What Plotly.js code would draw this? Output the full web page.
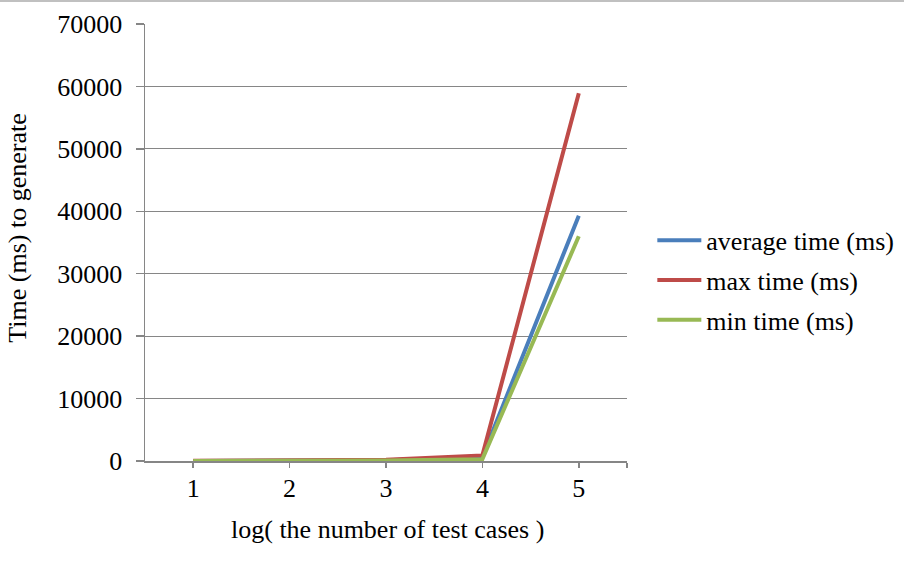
<!DOCTYPE html>
<html>
<head>
<meta charset="utf-8">
<script src="https://cdn.plot.ly/plotly-3.0.1.min.js"></script>
<style>
  html, body { margin: 0; padding: 0; background: #fff; }
  #chart { width: 904px; height: 562px; border-top: 2px solid #c0c0c0; box-sizing: border-box; }
</style>
</head>
<body>
<div id="chart"></div>
<script>
// log10 of the number of generated test cases
const logCases = [1, 2, 3, 4, 5];

// generation time in milliseconds
const avgTime = [15, 35, 120, 650, 39300];
const maxTime = [25, 60, 200, 900, 58900];
const minTime = [8, 20, 70, 300, 36000];

const seriesNames = ['average time (ms)', 'max time (ms)', 'min time (ms)'];
const seriesColors = ['#4A7EBB', '#BE4B48', '#98B954'];
const seriesValues = [avgTime, maxTime, minTime];

const yTicks = [0, 10000, 20000, 30000, 40000, 50000, 60000, 70000];

const font = 'Liberation Serif';
const textStyle = { family: font, size: 26, color: '#000' };

const traces = seriesValues.map((vals, i) => ({
  x: logCases,
  y: vals,
  type: 'scatter',
  mode: 'lines',
  name: seriesNames[i],
  legendgroup: 'g' + i,
  line: { color: seriesColors[i], width: 4 }
}));

const layout = {
  width: 904,
  height: 560,
  margin: { l: 145, r: 277, t: 22, b: 101, autoexpand: false },
  paper_bgcolor: '#fff',
  plot_bgcolor: '#fff',
  font: textStyle,
  showlegend: true,
  legend: {
    xref: 'container', yref: 'container',
    x: 0.7216, y: 0.503, xanchor: 'left', yanchor: 'middle',
    traceorder: 'grouped', tracegroupgap: 3,
    font: textStyle,
    itemwidth: 44
  },
  xaxis: {
    range: [0.5, 5.5],
    tickvals: [1, 2, 3, 4, 5, 5.5],
    ticktext: ['1', '2', '3', '4', '5', ''],
    ticks: 'outside', ticklen: 5, tickwidth: 1.5, tickcolor: '#868686',
    showline: true, linecolor: '#868686', linewidth: 1.5,
    showgrid: false, zeroline: false,
    ticklabelstandoff: -2,
    tickfont: textStyle
  },
  yaxis: {
    range: [0, 70000],
    tickvals: yTicks,
    ticktext: yTicks.map(String),
    ticks: 'outside', ticklen: 8, tickwidth: 1.5, tickcolor: '#868686',
    showline: true, linecolor: '#868686', linewidth: 1.5,
    showgrid: true, gridcolor: '#868686', gridwidth: 1.2,
    zeroline: false,
    ticklabelstandoff: 8,
    tickfont: textStyle
  },
  annotations: [
    {
      text: 'Time (ms) to generate',
      xref: 'paper', yref: 'paper',
      x: -0.2635, y: 0.534, xanchor: 'center', yanchor: 'middle',
      textangle: -90, showarrow: false,
      font: textStyle
    },
    {
      text: 'log( the number of test cases )',
      xref: 'paper', yref: 'paper',
      x: 0.504, y: -0.157, xanchor: 'center', yanchor: 'middle',
      showarrow: false,
      font: textStyle
    }
  ]
};

Plotly.newPlot('chart', traces, layout, { displayModeBar: false, staticPlot: true });
</script>
</body>
</html>
